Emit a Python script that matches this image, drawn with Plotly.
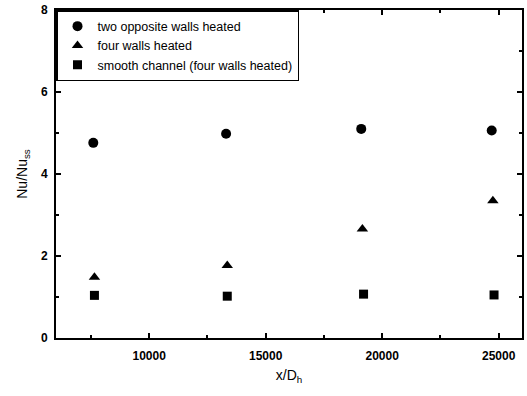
import plotly.graph_objects as go

x_circle = [7600, 13300, 19100, 24700]
y_circle = [4.76, 4.98, 5.10, 5.06]
x_tri = [7650, 13350, 19150, 24750]
y_tri = [1.48, 1.77, 2.66, 3.35]
x_sq = [7650, 13350, 19200, 24800]
y_sq = [1.04, 1.02, 1.07, 1.05]

x_ticks = [10000, 15000, 20000, 25000]
y_ticks = [0, 2, 4, 6, 8]

names = ["two opposite walls heated", "four walls heated", "smooth channel (four walls heated)"]

fig = go.Figure()
fig.add_trace(go.Scatter(x=x_circle, y=y_circle, mode="markers", name=names[0],
                         marker=dict(symbol="circle", size=10, color="black")))
fig.add_trace(go.Scatter(x=x_tri, y=y_tri, mode="markers", name=names[1],
                         marker=dict(symbol="triangle-up", size=10, color="black")))
fig.add_trace(go.Scatter(x=x_sq, y=y_sq, mode="markers", name=names[2],
                         marker=dict(symbol="square", size=9, color="black")))

axis_common = dict(showgrid=False, zeroline=False, showline=True, linecolor="black",
                   linewidth=2, mirror="ticks", ticks="inside", ticklen=5, tickwidth=1.5,
                   tickcolor="black", automargin=False,
                   tickfont=dict(family="Arial", size=12, color="black", weight="bold"))

fig.update_xaxes(range=[6000, 26000], tickvals=x_ticks, ticktext=[str(v) for v in x_ticks],
                 ticklabelstandoff=6,
                 minor=dict(tickvals=[7500, 12500, 17500, 22500], ticks="inside", ticklen=3, tickcolor="black"),
                 title=dict(text="x/D<sub>h</sub>", font=dict(family="Arial", size=14, color="black"), standoff=8),
                 **axis_common)
fig.update_yaxes(range=[0, 8], tickvals=y_ticks, ticktext=[str(v) for v in y_ticks],
                 ticklabelstandoff=4,
                 minor=dict(tickvals=[1, 3, 5, 7], ticks="inside", ticklen=3, tickcolor="black"),
                 title=dict(text="Nu/Nu<sub>ss</sub>", font=dict(family="Arial", size=14, color="black"), standoff=10),
                 **axis_common)

fig.update_layout(
    width=527, height=396,
    margin=dict(l=56, r=5, t=10, b=58),
    plot_bgcolor="white", paper_bgcolor="white",
    legend=dict(x=0, y=1, xanchor="left", yanchor="top", bordercolor="black", borderwidth=1.5,
                bgcolor="white", font=dict(family="Arial", size=12.5, color="black"),
                itemwidth=30, tracegroupgap=0),
    showlegend=True,
)

fig.write_html("out.html", config={"displayModeBar": False},
               post_script="document.body.style.margin='0px';document.body.style.overflow='hidden';")
